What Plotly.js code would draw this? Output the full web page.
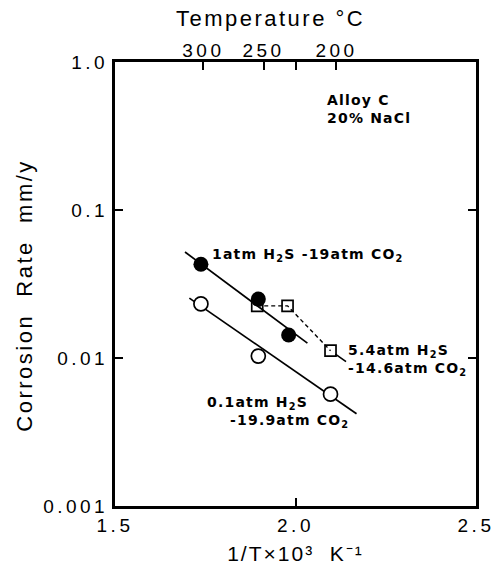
<!DOCTYPE html>
<html>
<head>
<meta charset="utf-8">
<script src="https://cdn.plot.ly/plotly-3.0.1.min.js"></script>
<style>
body{margin:0;padding:0;background:#fff;}
#chart{width:498px;height:566px;}
.xtick text, .ytick text, .x2tick text { letter-spacing: 3.5px; }
.g-xtitle text { letter-spacing: 2px; }
.annotation-text { letter-spacing: 1.2px; }
</style>
</head>
<body>
<div id="chart"></div>
<script>
// ---- data ----
// 1 atm H2S - 19 atm CO2 (filled circles)
const xFilled = [1.738, 1.897, 1.981];
const yFilled = [0.043, 0.025, 0.0143];
const xFitFilled = [1.694, 2.033];
const yFitFilled = [0.052, 0.0126];
// 0.1 atm H2S - 19.9 atm CO2 (open circles)
const xOpen = [1.738, 1.897, 2.097];
const yOpen = [0.0232, 0.0103, 0.0057];
const xFitOpen = [1.706, 2.169];
const yFitOpen = [0.0254, 0.0042];
// 5.4 atm H2S - 14.6 atm CO2 (open squares, dashed)
const xSquare = [1.894, 1.978, 2.097];
const ySquare = [0.0225, 0.0225, 0.0112];
// axes
const xTickVals = [1.5, 2.0, 2.5];
const xTickText = ["1.5", "2.0", "2.5"];
const yTickVals = [0.001, 0.01, 0.1, 1];
const yTickText = ["0.001", "0.01", "0.1", "1.0"];
const tempLabelsC = [300, 250, 200];

const FONT = "Liberation Sans, Arial, sans-serif";
const AFONT = "DejaVu Sans, Arial, sans-serif";
const topVals = tempLabelsC.map(t => 1000 / (t + 273.15));

const traces = [
  {x: xFitFilled, y: yFitFilled, mode: "lines", line: {color: "#000", width: 1.7}, hoverinfo: "skip"},
  {x: xFitOpen, y: yFitOpen, mode: "lines", line: {color: "#000", width: 1.7}, hoverinfo: "skip"},
  {x: xSquare, y: ySquare, mode: "lines+markers",
   line: {color: "#000", width: 1.4, dash: "4px,3px"},
   marker: {symbol: "square-open", size: 11, color: "#000", line: {width: 1.7}}},
  {x: xFilled, y: yFilled, mode: "markers",
   marker: {symbol: "circle", size: 15, color: "#000", line: {width: 0}}},
  {x: xOpen, y: yOpen, mode: "markers",
   marker: {symbol: "circle", size: 14, color: "#fff", line: {color: "#000", width: 1.7}}},
  {x: [1.5, 2.5], y: [0.001, 0.001], xaxis: "x2", mode: "markers", marker: {opacity: 0}, hoverinfo: "skip"}
];

const annFont = {family: AFONT, size: 14, color: "#000", weight: "bold"};
const ttlFont = {family: FONT, size: 22, color: "#000"};
const layout = {
  width: 498, height: 566,
  margin: {l: 115, r: 22, t: 62, b: 60},
  paper_bgcolor: "#fff", plot_bgcolor: "#fff",
  showlegend: false,
  font: {family: FONT, color: "#000", size: 19},
  xaxis: {
    range: [1.5, 2.5], tickvals: xTickVals, ticktext: xTickText,
    showgrid: false, zeroline: false, showline: true, linewidth: 3, linecolor: "#000",
    mirror: "ticks", ticks: "inside", ticklen: 8, tickwidth: 2, tickcolor: "#000",
    tickfont: {family: FONT, size: 19},
    title: {text: "1/T×10³  K⁻¹", font: {family: FONT, size: 21}, standoff: 12}
  },
  xaxis2: {
    overlaying: "x", side: "top", range: [1.5, 2.5],
    tickvals: topVals, ticktext: tempLabelsC.map(String),
    showgrid: false, zeroline: false, showline: false,
    ticks: "inside", ticklen: 8, tickwidth: 2, tickcolor: "#000",
    tickfont: {family: FONT, size: 19}
  },
  yaxis: {
    type: "log", range: [-3, 0], tickvals: yTickVals, ticktext: yTickText,
    showgrid: false, zeroline: false, showline: true, linewidth: 3, linecolor: "#000",
    mirror: "ticks", ticks: "inside", ticklen: 8, tickwidth: 2, tickcolor: "#000",
    tickfont: {family: FONT, size: 19}
  },
  annotations: [
    {xref: "paper", yref: "paper", x: 0.432, y: 1.099, xanchor: "center", yanchor: "middle",
     text: "Temperature °C", showarrow: false, font: ttlFont},
    {xref: "paper", yref: "paper", x: -0.249, y: 0.473, xanchor: "center", yanchor: "middle",
     textangle: -90, text: "Corrosion  Rate  mm/y", showarrow: false, font: ttlFont},
    {xref: "x", yref: "y", x: 1.764, y: -1.304, xanchor: "left", yanchor: "middle",
     text: "1atm H<sub>2</sub>S -19atm CO<sub>2</sub>", showarrow: false, font: annFont},
    {xref: "x", yref: "y", x: 2.139, y: -2.014, xanchor: "left", yanchor: "middle", align: "left",
     text: "5.4atm H<sub>2</sub>S<br>-14.6atm CO<sub>2</sub>", showarrow: false, font: annFont},
    {xref: "x", yref: "y", x: 1.75, y: -2.304, xanchor: "left", yanchor: "middle",
     text: "0.1atm H<sub>2</sub>S", showarrow: false, font: annFont},
    {xref: "x", yref: "y", x: 1.814, y: -2.426, xanchor: "left", yanchor: "middle",
     text: "-19.9atm CO<sub>2</sub>", showarrow: false, font: annFont},
    {xref: "x", yref: "y", x: 2.083, y: -0.318, xanchor: "left", yanchor: "middle", align: "left",
     text: "Alloy C<br>20% NaCl", showarrow: false, font: annFont},
    // short leader from the last square toward its label
    {xref: "x", yref: "y", x: xSquare[2], y: Math.log10(ySquare[2]), text: "",
     showarrow: true, arrowhead: 0, arrowwidth: 1.6, arrowcolor: "#000", ax: 17, ay: 12, standoff: 6}
  ]
};

Plotly.newPlot("chart", traces, layout, {displayModeBar: false, staticPlot: true}).then(() => {
  document.querySelectorAll(".annotation").forEach((g, i) => {
    if (i < 2) { const t = g.querySelector(".annotation-text"); if (t) t.style.letterSpacing = "2.5px"; }
  });
});
</script>
</body>
</html>
